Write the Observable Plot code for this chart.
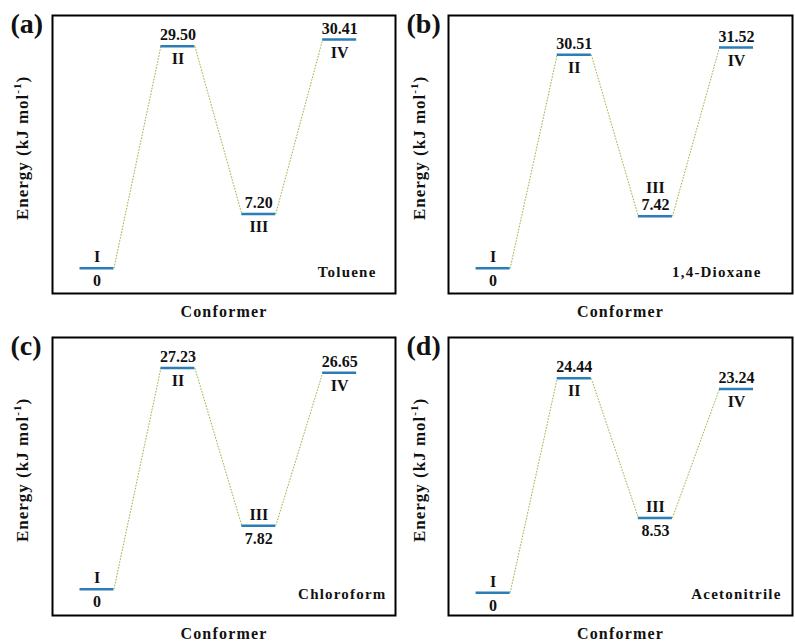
<!DOCTYPE html>
<html><head><meta charset="utf-8">
<script src="https://cdn.jsdelivr.net/npm/d3@7"></script>
<script src="https://cdn.jsdelivr.net/npm/@observablehq/plot@0.6"></script>
<style>
body{margin:0;background:#fff;}
#chart{position:relative;width:795px;height:644px;background:#fff;}
#chart svg{position:absolute;}
</style></head><body><div id="chart"></div>
<script>
// ---- data ----
const panelLetters = ["(a)", "(b)", "(c)", "(d)"];
const solvents = ["Toluene", "1,4-Dioxane", "Chloroform", "Acetonitrile"];
const conformers = ["I", "II", "III", "IV"];
const energyToluene = [0, 29.50, 7.20, 30.41];
const energyDioxane = [0, 30.51, 7.42, 31.52];
const energyChloroform = [0, 27.23, 7.82, 26.65];
const energyAcetonitrile = [0, 24.44, 8.53, 23.24];
const energies = [energyToluene, energyDioxane, energyChloroform, energyAcetonitrile];
const xLabel = "Conformer";

// ---- layout (not data) ----
const W = 397, H = 322;
const panels = [
  {left: 0,   top: 0,   mL: 52, yDomain: [-3.37, 33.6], solDx: -19},
  {left: 397, top: 0,   mL: 51, yDomain: [-3.6, 36.1],  solDx: -31},
  {left: 0,   top: 322, mL: 52, yDomain: [-3.24, 31.0], solDx: -9},
  {left: 397, top: 322, mL: 51, yDomain: [-2.6, 29.1],  solDx: -11}
];
// label placement per panel / conformer: [numeral dy, value dy]
const ABOVE = -11, BELOW = 13, ABOVE2 = -28;
const placement = [
  [[ABOVE, BELOW], [BELOW, ABOVE], [BELOW, ABOVE], [BELOW, ABOVE]],
  [[ABOVE, BELOW], [BELOW, ABOVE], [ABOVE2, ABOVE], [BELOW, ABOVE]],
  [[ABOVE, BELOW], [BELOW, ABOVE], [ABOVE, BELOW], [BELOW, ABOVE]],
  [[ABOVE, BELOW], [BELOW, ABOVE], [ABOVE, BELOW], [BELOW, ABOVE]]
];
const hw = 0.21;
const font = "'Liberation Serif', 'Times New Roman', serif";
const container = document.getElementById("chart");

panels.forEach((p, k) => {
  const rows = energies[k].map((e, j) => ({i: j + 1, e, name: conformers[j], val: e === 0 ? "0" : e.toFixed(2)}));
  const links = rows.slice(0, -1).map((r, j) => ({x1: r.i + hw, y1: r.e, x2: rows[j + 1].i - hw, y2: rows[j + 1].e}));
  const labelMarks = [];
  rows.forEach((r, j) => {
    const [dn, dv] = placement[k][j];
    labelMarks.push(Plot.text([r], {x: "i", y: "e", text: "name", dy: dn, fontSize: 16, fontWeight: "bold", lineAnchor: "middle"}));
    labelMarks.push(Plot.text([r], {x: "i", y: "e", text: "val", dy: dv, fontSize: 16, fontWeight: "bold", lineAnchor: "middle"}));
  });
  const svg = Plot.plot({
    width: W, height: H,
    marginLeft: p.mL, marginRight: 2, marginTop: 15, marginBottom: 29,
    style: {fontFamily: font, background: "transparent", color: "#111"},
    x: {domain: [0.45, 4.69], axis: null},
    y: {domain: p.yDomain, axis: null},
    marks: [
      Plot.link(links, {x1: "x1", y1: "y1", x2: "x2", y2: "y2", stroke: "#98b445", strokeWidth: 1, strokeDasharray: "1.6 1.4"}),
      Plot.ruleY(rows, {y: "e", x1: d => d.i - hw, x2: d => d.i + hw, stroke: "#2a7db5", strokeWidth: 2.5}),
      ...labelMarks,
      Plot.text([solvents[k]], {frameAnchor: "bottom-right", dx: p.solDx, dy: -21, textAnchor: "end", lineAnchor: "middle", fontSize: 15, fontWeight: "bold"}),
      Plot.text([panelLetters[k]], {frameAnchor: "top-left", dx: -42, dy: 9, textAnchor: "start", lineAnchor: "middle", fontSize: 28, fontWeight: "bold"}),
      Plot.text([xLabel], {frameAnchor: "bottom", dy: 18, lineAnchor: "middle", fontSize: 16, fontWeight: "bold"}),
      Plot.frame({stroke: "#000", strokeWidth: 2})
    ]
  });
  svg.style.left = p.left + "px";
  svg.style.top = p.top + "px";
  const s = d3.select(svg);
  s.selectAll("text").filter(function(){ return this.textContent === xLabel || solvents.includes(this.textContent); })
    .style("letter-spacing", "1.2px");
  const t = s.append("text")
    .attr("transform", `translate(28,148) rotate(-90)`)
    .attr("text-anchor", "middle")
    .attr("font-family", font)
    .attr("font-weight", "bold")
    .attr("font-size", 17)
    .style("letter-spacing", "1px")
    .attr("fill", "#111");
  t.append("tspan").text("Energy (kJ mol");
  t.append("tspan").attr("font-size", 11).attr("dy", -7).text("-1");
  t.append("tspan").attr("dy", 7).text(")");
  container.appendChild(svg);
});
</script></body></html>
